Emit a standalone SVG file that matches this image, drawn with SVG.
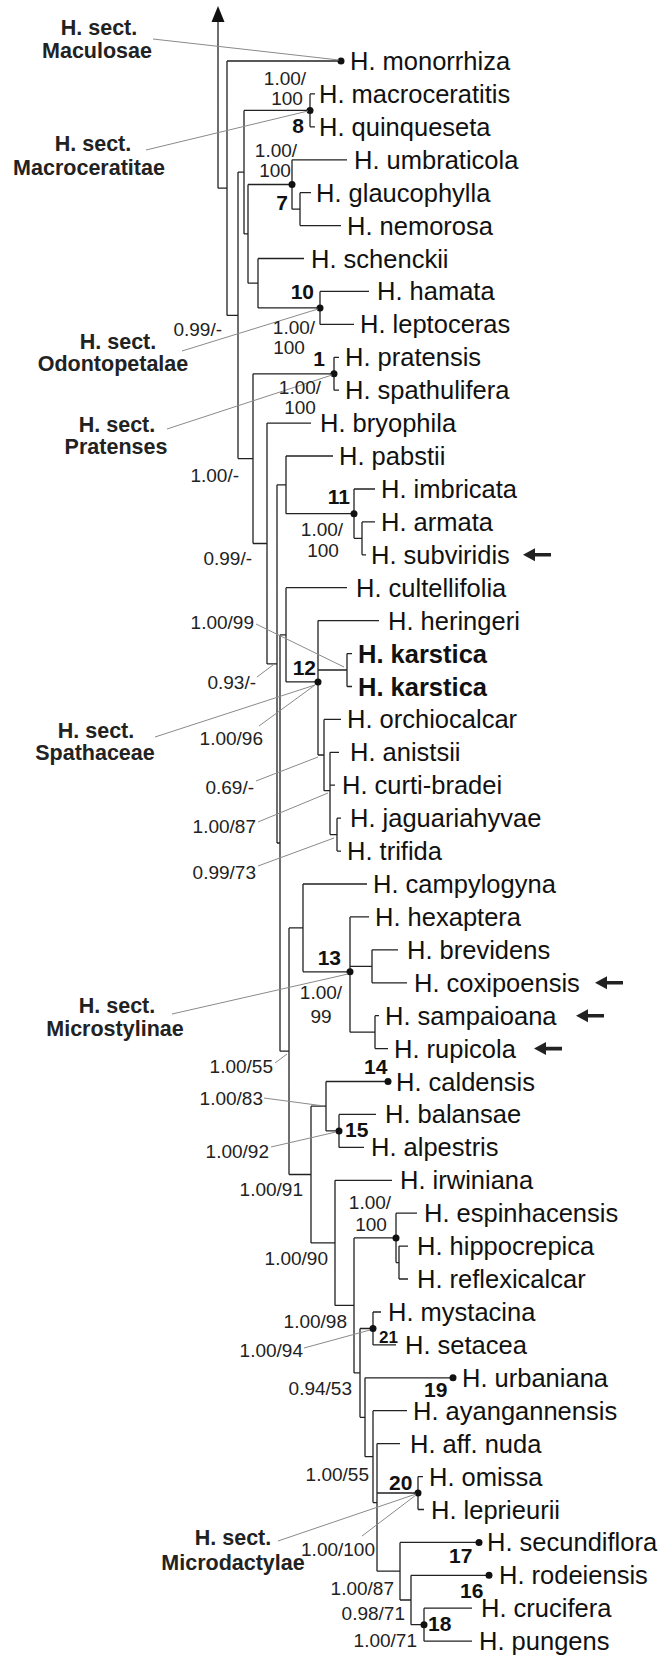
<svg xmlns="http://www.w3.org/2000/svg" xmlns:xlink="http://www.w3.org/1999/xlink" width="662" height="1657" viewBox="0 0 662 1657">
<style>
.t{font-family:"Liberation Sans",Arial,sans-serif;font-size:25.5px;fill:#111}
.tb{font-weight:bold}
.s{font-family:"Liberation Sans",Arial,sans-serif;font-size:19px;fill:#222}
.sm{text-anchor:middle}
.se{text-anchor:end}
.n{font-family:"Liberation Sans",Arial,sans-serif;font-size:21px;font-weight:bold;fill:#111}
.ns{font-size:17px}
.sec{font-family:"Liberation Sans",Arial,sans-serif;font-size:21.5px;font-weight:bold;fill:#222;text-anchor:middle}
.br{stroke:#222;stroke-width:1.3;fill:none}
.ld{stroke:#8a8a8a;stroke-width:1;fill:none}
.dot{fill:#111}
</style>
<defs>
<path id="arr" d="M0 0 L12 -6.5 L12 -1.8 L28 -1.8 L28 1.8 L12 1.8 L12 6.5 Z" fill="#222"/>
</defs>
<rect width="662" height="1657" fill="#fff"/>
<g id="connectors">
<path class="br" d="M227 61 V315.4 M227 61 H341 M227 315.4 H238 M218 188.2 H227 M218 188.2 V20
M238 172.1 V458.6 M238 172.1 H244 M238 458.6 H253
M244 110.4 V233.9 M244 110.4 H310 M244 233.9 H248
M310 93.9 V126.8 M310 93.9 H315 M310 126.8 H315
M248 184.5 V283.2 M248 184.5 H292 M248 283.2 H258
M292 159.8 V209.2 M292 159.8 H347 M292 209.2 H300
M300 192.7 V225.6 M300 192.7 H311 M300 225.6 H341
M258 258.5 V307.9 M258 258.5 H304 M258 307.9 H320
M320 291.4 V324.4 M320 291.4 H369 M320 324.4 H354
M253 373.8 V543.5 M253 373.8 H334 M253 543.5 H267
M334 357.3 V390.2 M334 357.3 H339 M334 390.2 H339
M267 423.1 V663.9 M267 423.1 H311 M267 663.9 H277
M277 484.8 V843 M277 484.8 H286 M277 843 H280
M286 456 V513.7 M286 456 H333 M286 513.7 H354
M354 489 V538.3 M354 489 H375 M354 538.3 H362
M362 521.9 V554.8 M362 521.9 H375 M362 554.8 H366
M280 634.8 V1051.2 M280 634.8 H286 M280 1051.2 H289
M286 587.7 V681.9 M286 587.7 H347 M286 681.9 H318
M318 620.6 V755 M318 620.6 H379 M318 670 H347 M318 755 H324
M347 653.6 V686.5 M347 653.6 H352 M347 686.5 H352
M324 719.4 V790.7 M324 719.4 H341 M324 790.7 H330
M330 752.3 V834.6 M330 752.3 H339 M330 785.2 H335 M330 834.6 H337
M337 818.2 V851.1 M337 818.2 H341 M337 851.1 H341
M289 927.9 V1174.5 M289 927.9 H303 M289 1174.5 H311
M303 884 V971.8 M303 884 H367 M303 971.8 H350
M350 916.9 V1032.2 M350 916.9 H369 M350 966.3 H372 M350 1032.2 H375
M372 949.8 V982.8 M372 949.8 H398 M372 982.8 H407
M375 1015.7 V1048.6 M375 1015.7 H379 M375 1048.6 H388
M311 1106.2 V1242.9 M311 1106.2 H326 M311 1242.9 H335
M326 1081.5 V1130.9 M326 1081.5 H388 M326 1130.9 H339
M339 1114.4 V1147.4 M339 1114.4 H376 M339 1147.4 H364
M335 1180.3 V1305.4 M335 1180.3 H392 M335 1305.4 H354
M354 1237.9 V1372.9 M354 1237.9 H396 M354 1372.9 H360
M396 1213.2 V1262.6 M396 1213.2 H417 M396 1262.6 H399
M399 1246.1 V1279 M399 1246.1 H408 M399 1279 H408
M360 1328.5 V1417.3 M360 1328.5 H373 M360 1417.3 H365
M373 1312 V1344.9 M373 1312 H381 M373 1344.9 H396
M365 1377.8 V1456.7 M365 1377.8 H453 M365 1456.7 H373
M373 1410.7 V1502.6 M373 1410.7 H407 M373 1502.6 H377
M377 1443.6 V1571.2 M377 1443.6 H400 M377 1493 H418 M377 1571.2 H400
M418 1476.6 V1509.5 M418 1476.6 H423 M418 1509.5 H424
M400 1542.4 V1600 M400 1542.4 H479 M400 1600 H411
M411 1575.3 V1624.7 M411 1575.3 H489 M411 1624.7 H424
M424 1608.2 V1641.2 M424 1608.2 H472 M424 1641.2 H472"/>
<polygon points="218,6 211.5,22 224.5,22" fill="#111"/>
<g class="dot">
<circle cx="341" cy="61" r="3.5"/><circle cx="310" cy="110.4" r="3.5"/><circle cx="292" cy="184.5" r="3.5"/>
<circle cx="320" cy="307.9" r="3.5"/><circle cx="334" cy="373.8" r="3.5"/><circle cx="354" cy="513.7" r="3.5"/>
<circle cx="318" cy="681.9" r="3.5"/><circle cx="350" cy="971.8" r="3.5"/><circle cx="388" cy="1081.5" r="3.5"/>
<circle cx="339" cy="1130.9" r="3.5"/><circle cx="396" cy="1237.9" r="3.5"/><circle cx="373" cy="1328.5" r="3.5"/>
<circle cx="453" cy="1377.8" r="3.5"/><circle cx="418" cy="1493" r="3.5"/><circle cx="479" cy="1542.4" r="3.5"/>
<circle cx="489" cy="1575.3" r="3.5"/><circle cx="424" cy="1624.7" r="3.5"/>
</g>
</g>
<g id="leaders">
<path class="ld" d="M153 39 L339 60 M146 150 L308 111 M182 351 L318 309 M167 429 L332 375
M256 624 L344 667 M257 677 L273 665 M259 726 L315 685 M155 737 L315 685
M256 781 L318 757 M258 822 L328 793 M258 866 L334 838 M172 1014 L348 974
M275 1063 L287 1054 M264 1098 L324 1106 M271 1147 L336 1132 M304 1348 L370 1330
M278 1541 L416 1494 M362 1536 L416 1495"/>
</g>
<g id="taxa">
<g id="tx-monorrhiza"><text class="t" x="350" y="70">H. monorrhiza</text></g>
<g id="tx-macroceratitis"><text class="t" x="319" y="103">H. macroceratitis</text></g>
<g id="tx-quinqueseta"><text class="t" x="319" y="136">H. quinqueseta</text></g>
<g id="tx-umbraticola"><text class="t" x="354" y="169">H. umbraticola</text></g>
<g id="tx-glaucophylla"><text class="t" x="316" y="202">H. glaucophylla</text></g>
<g id="tx-nemorosa"><text class="t" x="347" y="235">H. nemorosa</text></g>
<g id="tx-schenckii"><text class="t" x="311" y="268">H. schenckii</text></g>
<g id="tx-hamata"><text class="t" x="377" y="300">H. hamata</text></g>
<g id="tx-leptoceras"><text class="t" x="360" y="333">H. leptoceras</text></g>
<g id="tx-pratensis"><text class="t" x="345" y="366">H. pratensis</text></g>
<g id="tx-spathulifera"><text class="t" x="345" y="399">H. spathulifera</text></g>
<g id="tx-bryophila"><text class="t" x="320" y="432">H. bryophila</text></g>
<g id="tx-pabstii"><text class="t" x="339" y="465">H. pabstii</text></g>
<g id="tx-imbricata"><text class="t" x="381" y="498">H. imbricata</text></g>
<g id="tx-armata"><text class="t" x="381" y="531">H. armata</text></g>
<g id="tx-subviridis"><text class="t" x="371" y="564">H. subviridis</text><use href="#arr" x="523" y="554.8"/></g>
<g id="tx-cultellifolia"><text class="t" x="356" y="597">H. cultellifolia</text></g>
<g id="tx-heringeri"><text class="t" x="388" y="630">H. heringeri</text></g>
<g id="tx-karstica-1"><text class="t tb" x="358" y="663">H. karstica</text></g>
<g id="tx-karstica-2"><text class="t tb" x="358" y="696">H. karstica</text></g>
<g id="tx-orchiocalcar"><text class="t" x="347" y="728">H. orchiocalcar</text></g>
<g id="tx-anistsii"><text class="t" x="350" y="761">H. anistsii</text></g>
<g id="tx-curti-bradei"><text class="t" x="342" y="794">H. curti-bradei</text></g>
<g id="tx-jaguariahyvae"><text class="t" x="350" y="827">H. jaguariahyvae</text></g>
<g id="tx-trifida"><text class="t" x="347" y="860">H. trifida</text></g>
<g id="tx-campylogyna"><text class="t" x="373" y="893">H. campylogyna</text></g>
<g id="tx-hexaptera"><text class="t" x="375" y="926">H. hexaptera</text></g>
<g id="tx-brevidens"><text class="t" x="407" y="959">H. brevidens</text></g>
<g id="tx-coxipoensis"><text class="t" x="414" y="992">H. coxipoensis</text><use href="#arr" x="595" y="982.8"/></g>
<g id="tx-sampaioana"><text class="t" x="385" y="1025">H. sampaioana</text><use href="#arr" x="576" y="1015.7"/></g>
<g id="tx-rupicola"><text class="t" x="394" y="1058">H. rupicola</text><use href="#arr" x="534" y="1048.6"/></g>
<g id="tx-caldensis"><text class="t" x="396" y="1091">H. caldensis</text></g>
<g id="tx-balansae"><text class="t" x="385" y="1123">H. balansae</text></g>
<g id="tx-alpestris"><text class="t" x="371" y="1156">H. alpestris</text></g>
<g id="tx-irwiniana"><text class="t" x="400" y="1189">H. irwiniana</text></g>
<g id="tx-espinhacensis"><text class="t" x="424" y="1222">H. espinhacensis</text></g>
<g id="tx-hippocrepica"><text class="t" x="417" y="1255">H. hippocrepica</text></g>
<g id="tx-reflexicalcar"><text class="t" x="417" y="1288">H. reflexicalcar</text></g>
<g id="tx-mystacina"><text class="t" x="388" y="1321">H. mystacina</text></g>
<g id="tx-setacea"><text class="t" x="405" y="1354">H. setacea</text></g>
<g id="tx-urbaniana"><text class="t" x="462" y="1387">H. urbaniana</text></g>
<g id="tx-ayangannensis"><text class="t" x="413" y="1420">H. ayangannensis</text></g>
<g id="tx-aff-nuda"><text class="t" x="410" y="1453">H. aff. nuda</text></g>
<g id="tx-omissa"><text class="t" x="429" y="1486">H. omissa</text></g>
<g id="tx-leprieurii"><text class="t" x="431" y="1519">H. leprieurii</text></g>
<g id="tx-secundiflora"><text class="t" x="487" y="1551">H. secundiflora</text></g>
<g id="tx-rodeiensis"><text class="t" x="499" y="1584">H. rodeiensis</text></g>
<g id="tx-crucifera"><text class="t" x="481" y="1617">H. crucifera</text></g>
<g id="tx-pungens"><text class="t" x="479" y="1650">H. pungens</text></g>
</g>
<g id="sections">
<g id="sec-maculosae"><text class="sec" x="99" y="35">H. sect.</text><text class="sec" x="97" y="58">Maculosae</text></g>
<g id="sec-macroceratitae"><text class="sec" x="93" y="151">H. sect.</text><text class="sec" x="89" y="175">Macroceratitae</text></g>
<g id="sec-odontopetalae"><text class="sec" x="118" y="349">H. sect.</text><text class="sec" x="113" y="371">Odontopetalae</text></g>
<g id="sec-pratenses"><text class="sec" x="117" y="432">H. sect.</text><text class="sec" x="116" y="454">Pratenses</text></g>
<g id="sec-spathaceae"><text class="sec" x="96" y="738">H. sect.</text><text class="sec" x="95" y="760">Spathaceae</text></g>
<g id="sec-microstylinae"><text class="sec" x="117" y="1013">H. sect.</text><text class="sec" x="115" y="1036">Microstylinae</text></g>
<g id="sec-microdactylae"><text class="sec" x="233" y="1545">H. sect.</text><text class="sec" x="233" y="1570">Microdactylae</text></g>
</g>
<g id="clade-numbers">
<text class="n se" x="304" y="133">8</text>
<text class="n se" x="288" y="210">7</text>
<text class="n se" x="314" y="299">10</text>
<text class="n se" x="325" y="366">1</text>
<text class="n se" x="350" y="504">11</text>
<text class="n se" x="316" y="675">12</text>
<text class="n se" x="341" y="965">13</text>
<text class="n" x="364" y="1074">14</text>
<text class="n" x="345" y="1137">15</text>
<text class="n ns" x="379" y="1343">21</text>
<text class="n" x="424" y="1397">19</text>
<text class="n" x="389" y="1490">20</text>
<text class="n" x="449" y="1563">17</text>
<text class="n" x="460" y="1598">16</text>
<text class="n" x="428" y="1631">18</text>
</g>
<g id="supports">
<text class="s sm" x="285" y="85">1.00/</text><text class="s sm" x="287" y="105">100</text>
<text class="s sm" x="276" y="157">1.00/</text><text class="s sm" x="275" y="177">100</text>
<text class="s sm" x="294" y="334">1.00/</text><text class="s sm" x="289" y="354">100</text>
<text class="s sm" x="300" y="394">1.00/</text><text class="s sm" x="300" y="414">100</text>
<text class="s sm" x="322" y="536">1.00/</text><text class="s sm" x="323" y="557">100</text>
<text class="s sm" x="321" y="999">1.00/</text><text class="s sm" x="321" y="1023">99</text>
<text class="s sm" x="370" y="1209">1.00/</text><text class="s sm" x="371" y="1231">100</text>
<text class="s se" x="222" y="336">0.99/-</text>
<text class="s se" x="239" y="482">1.00/-</text>
<text class="s se" x="252" y="565">0.99/-</text>
<text class="s se" x="254" y="629">1.00/99</text>
<text class="s se" x="256" y="689">0.93/-</text>
<text class="s se" x="263" y="745">1.00/96</text>
<text class="s se" x="254" y="794">0.69/-</text>
<text class="s se" x="256" y="833">1.00/87</text>
<text class="s se" x="256" y="879">0.99/73</text>
<text class="s se" x="273" y="1073">1.00/55</text>
<text class="s se" x="263" y="1105">1.00/83</text>
<text class="s se" x="269" y="1158">1.00/92</text>
<text class="s se" x="303" y="1196">1.00/91</text>
<text class="s se" x="328" y="1265">1.00/90</text>
<text class="s se" x="347" y="1328">1.00/98</text>
<text class="s se" x="303" y="1357">1.00/94</text>
<text class="s se" x="352" y="1395">0.94/53</text>
<text class="s se" x="369" y="1481">1.00/55</text>
<text class="s se" x="375" y="1556">1.00/100</text>
<text class="s se" x="394" y="1595">1.00/87</text>
<text class="s se" x="405" y="1620">0.98/71</text>
<text class="s se" x="417" y="1647">1.00/71</text>
</g>
</svg>
